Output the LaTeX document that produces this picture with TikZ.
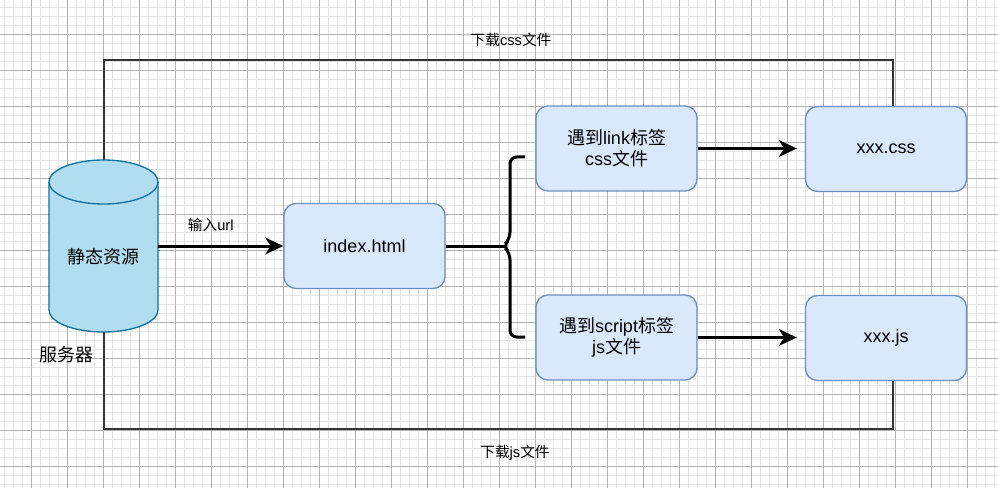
\documentclass[tikz,border=0pt]{standalone}
\usepackage{fontspec}
\setmainfont{Liberation Sans}
\newfontfamily\cjk{Noto Sans CJK SC}
\usetikzlibrary{arrows.meta}

\definecolor{boxfill}{RGB}{218,232,252}
\definecolor{boxline}{RGB}{108,142,191}
\definecolor{dbfill}{RGB}{177,221,240}
\definecolor{dbline}{RGB}{16,115,158}
\definecolor{gridmajor}{RGB}{178,178,178}
\definecolor{gridminor}{RGB}{228,228,228}
\definecolor{wire}{RGB}{51,51,51}

\tikzset{
  minorgrid/.style={draw=gridminor, line width=0.5pt},
  majorgrid/.style={draw=gridmajor, line width=0.6pt},
  stepbox/.style={draw=boxline, fill=boxfill, line width=1pt, rounded corners=9pt,
    minimum width=120.75pt, minimum height=63.75pt, inner sep=0pt, align=center,
    font=\fontsize{13.5}{15.75}\selectfont},
  dbshape/.style={draw=dbline, fill=dbfill, line width=1pt},
  dbbody/.style={minimum width=81.75pt, minimum height=129pt, inner sep=0pt},
  bigtext/.style={inner sep=0.75pt, font=\fontsize{13.5}{15.75}\selectfont},
  smalltext/.style={inner sep=0.75pt, font=\fontsize{11}{13}\selectfont},
  flow/.style={draw=black, line width=2.25pt, -{Stealth[length=13.5pt, width=12.5pt, inset=4pt]}},
  bracket/.style={draw=black, line width=2.25pt},
  wireline/.style={draw=wire, line width=1.5pt},
}

\begin{document}
\begin{tikzpicture}[x=0.75pt,y=0.75pt,yscale=-1,xscale=1]
  \useasboundingbox (0,0) rectangle (998,488);
  \fill[white] (0,0) rectangle (998,488);

  % background grid
  \foreach \gx in {0,...,110} {\draw[minorgrid] (4.7+9*\gx,0) -- (4.7+9*\gx,488);}
  \foreach \gy in {0,...,53} {\draw[minorgrid] (0,7.3+9*\gy) -- (998,7.3+9*\gy);}
  \foreach \gx in {0,...,27} {\draw[majorgrid] (31.7+36*\gx,0) -- (31.7+36*\gx,488);}
  \foreach \gy in {0,...,13} {\draw[majorgrid] (0,34.3+36*\gy) -- (998,34.3+36*\gy);}

  % Database: static resources
  \draw[dbshape] (49,182) -- (49,310) arc[start angle=180, end angle=0, x radius=54.5, y radius=22]
    -- (158,182) arc[start angle=0, end angle=-180, x radius=54.5, y radius=22] -- cycle;
  \draw[dbline, line width=1pt] (49,182) arc[start angle=180, end angle=0, x radius=54.5, y radius=22];
  \node[dbbody] (res) at (103.5,246) {};
  \node[bigtext] (restext) at (103.5,257) {\cjk 静态资源};
  % Text Node
  \node[bigtext] (server) at (66,355) {\cjk 服务器};

  % Boxes
  \node[stepbox] (index) at (364.5,246) {index.html};
  \node[stepbox] (link) at (616.5,148.5) {{\cjk 遇到}link{\cjk 标签}\\css{\cjk 文件}};
  \node[stepbox] (script) at (616.5,337.5) {{\cjk 遇到}script{\cjk 标签}\\js{\cjk 文件}};
  \node[stepbox] (css) at (886,149) {xxx.css};
  \node[stepbox] (js) at (886,338) {xxx.js};

  % Arrows
  \draw[flow] (res.east) -- (index.west) node[smalltext, pos=0.42, above=9pt] (url) {{\cjk 输入}url};
  \draw[flow, shorten >=6pt] (link.east) -- (link.east -| css.west);
  \draw[flow, shorten >=6pt] (script.east) -- (script.east -| js.west);

  % Bracket
  \coordinate (cusp) at (505,246);
  \draw[bracket] (index.east) -- (cusp);
  \draw[bracket, rounded corners=5pt] (525,157) -- (510,157) -- (510,239) -- (503,246)
    -- (510,253) -- (510,337) -- (525,337);

  % Download lines
  \coordinate (topwire) at (500,60);
  \coordinate (botwire) at (500,429);
  \draw[wireline] (res.north) |- (topwire) -| ([xshift=5.25pt]css.north);
  \draw[wireline] (res.south) |- (botwire) -| ([xshift=5.25pt]js.south);
  % Text Node
  \node[smalltext] (dlcss) at (511,40) {{\cjk 下载}css{\cjk 文件}};
  % Text Node
  \node[smalltext] (dljs) at (515,453) {{\cjk 下载}js{\cjk 文件}};
\end{tikzpicture}
\end{document}
